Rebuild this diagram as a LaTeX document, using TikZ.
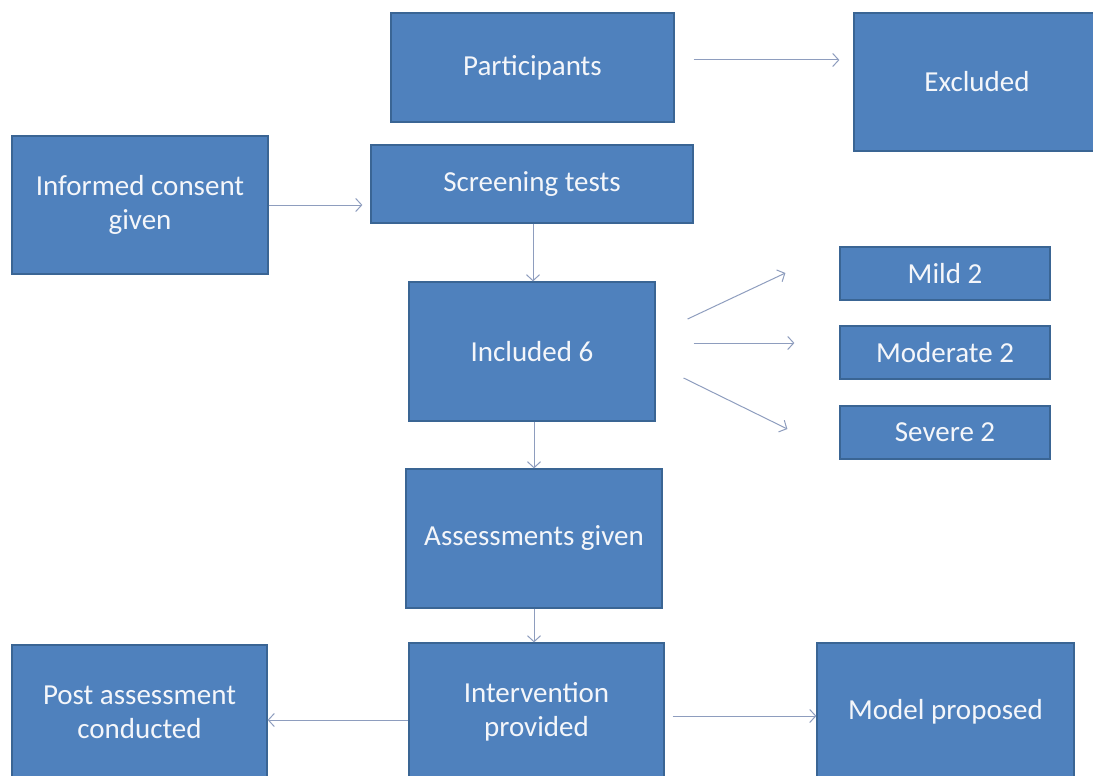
\documentclass[tikz,border=0pt]{standalone}
\usepackage{fontspec}
\setmainfont{Carlito}
\usetikzlibrary{arrows.meta}
\definecolor{boxfill}{HTML}{4F81BD}
\definecolor{boxline}{HTML}{3A6594}
\definecolor{arrcol}{HTML}{8E9DBE}
\definecolor{txtcol}{HTML}{F4F6FA}
\tikzset{
  box/.style={draw=boxline, line width=1.2pt, fill=boxfill, rectangle, inner sep=0pt,
    text=txtcol, align=center, font=\fontsize{29}{34}\selectfont},
  arr/.style={draw=arrcol, line width=1pt, -{Straight Barb[length=6pt,width=13pt]}}
}
\begin{document}
\begin{tikzpicture}[x=1pt,y=-1pt]
\useasboundingbox (0,0) rectangle (1093,776);
\node[box, minimum width=283pt, minimum height=109pt] (part) at (532.5,67.5) {Participants};
\node[box, minimum width=272pt, minimum height=138pt] (excl) at (990,82) {Excluded\hspace*{26pt}};
\node[box, minimum width=256pt, minimum height=138pt] (cons) at (140,205) {Informed consent\\given};
\node[box, minimum width=322pt, minimum height=78pt] (scr) at (532,184) {Screening tests};
\node[box, minimum width=246pt, minimum height=139pt] (inc) at (532,351.5) {Included 6};
\node[box, minimum width=210pt, minimum height=53pt] (mild) at (945,273.5) {Mild 2};
\node[box, minimum width=210pt, minimum height=53pt] (mod) at (945,352.5) {Moderate 2};
\node[box, minimum width=210pt, minimum height=53pt] (sev) at (945,432.5) {Severe 2};
\node[box, minimum width=256pt, minimum height=139pt] (ass) at (534,538.5) {Assessments given};
\node[box, minimum width=255pt, minimum height=135pt] (post) at (139.5,712.5) {Post assessment\\conducted};
\node[box, minimum width=255pt, minimum height=137pt] (int) at (536.5,711.5) {Intervention\\provided};
\node[box, minimum width=257pt, minimum height=137pt] (model) at (945.5,711.5) {Model proposed};

\draw[arr] ([shift={(19pt,7.5pt)}]part.east) -- ([shift={(-14pt,22pt)}]excl.west);
\draw[arr] (cons.east) -- ([xshift=-8pt]cons.east -| scr.west);
\draw[arr] (scr.south -| 533,0) -- (inc.north -| 533,0);
\draw[arr] ([shift={(32pt,32.5pt)}]inc.east) -- ([shift={(-54pt,0.5pt)}]mild.west);
\draw[arr] ([shift={(38pt,8.5pt)}]inc.east) -- ([shift={(-45pt,9.5pt)}]mod.west);
\draw[arr] ([shift={(28pt,-26.5pt)}]inc.east) -- ([shift={(-52pt,3.5pt)}]sev.west);
\draw[arr] (inc.south -| 534,0) -- (ass.north -| 534,0);
\draw[arr] (ass.south -| 534,0) -- (int.north -| 534,0);
\draw[arr] ([yshift=-8.5pt]int.west) -- ([yshift=-8.5pt]int.west -| post.east);
\draw[arr] ([shift={(8pt,-4.5pt)}]int.east) -- ([yshift=-4.5pt]int.east -| model.west);
\end{tikzpicture}
\end{document}
